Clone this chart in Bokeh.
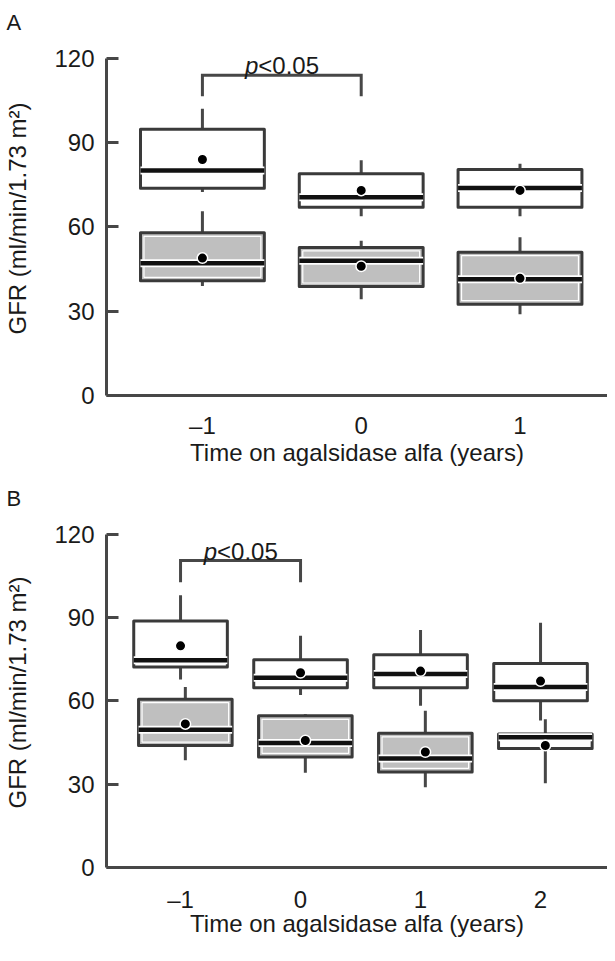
from bokeh.plotting import figure
from bokeh.models import ColumnDataSource, Range1d, FixedTicker
from bokeh.layouts import column
from bokeh.embed import file_html
from bokeh.resources import INLINE
from bokeh.core.properties import value

# ---------------- data ----------------
# Panel A
A_years = [-1, 0, 1]
A_hi_wlo = [72.4, 63.8, 63.8]
A_hi_q1 = [73.8, 67.0, 67.0]
A_hi_med = [80.1, 70.6, 73.9]
A_hi_q3 = [94.8, 78.9, 80.4]
A_hi_whi = [102.1, 83.7, 82.5]
A_hi_mean = [84.0, 73.0, 73.0]

A_lo_wlo = [39.0, 34.3, 28.9]
A_lo_q1 = [40.8, 38.8, 32.5]
A_lo_med = [47.1, 48.0, 41.4]
A_lo_q3 = [57.9, 52.7, 51.0]
A_lo_whi = [65.6, 55.1, 56.3]
A_lo_mean = [48.9, 46.0, 41.7]

# Panel B
B_years = [-1, 0, 1, 2]
B_hi_wlo = [67.7, 62.1, 58.2, 52.9]
B_hi_q1 = [72.2, 64.7, 64.7, 60.0]
B_hi_med = [74.6, 68.3, 69.7, 65.0]
B_hi_q3 = [88.7, 74.8, 76.6, 73.4]
B_hi_whi = [98.0, 83.4, 85.5, 88.1]
B_hi_mean = [79.8, 70.1, 70.7, 67.1]

B_lo_wlo = [38.6, 34.1, 28.9, 30.3]
B_lo_q1 = [43.9, 39.8, 34.4, 42.8]
B_lo_med = [49.6, 44.8, 39.2, 46.9]
B_lo_q3 = [60.6, 54.6, 48.3, 48.1]
B_lo_whi = [65.0, 55.2, 56.4, 53.4]
B_lo_mean = [51.7, 45.7, 41.6, 43.9]

y_ticks = [0, 30, 60, 90, 120]
x_label = "Time on agalsidase alfa (years)"
y_label = "GFR (ml/min/1.73 m\u00b2)"
sig_text = ["p", "<0.05"]
# brackets: (from year, to year, bracket top, leg bottom, text baseline)
A_bracket = (-1, 0, 114.0, 106.5, 117.4)
B_bracket = (-1, 0, 110.5, 102.7, 113.8)

FONT = "Liberation Sans"
DARK = "#474747"
GRAY = "#bfbfbf"


def make_panel(letter, years, hi, lo, lo_shift, lo_fills, xr, dims, stand, bracket):
    W, H, bl, bt, bb = dims
    s_tick, s_lab = stand
    p = figure(width=W, height=H, x_range=Range1d(*xr), y_range=Range1d(0, 126),
               output_backend="svg", toolbar_location=None,
               min_border_left=bl, min_border_right=0,
               min_border_top=bt, min_border_bottom=bb)
    p.outline_line_color = None
    p.grid.visible = False
    p.background_fill_color = "white"
    p.border_fill_color = "white"

    fw = W - bl
    fh = H - bt - bb
    px_x = fw / (xr[1] - xr[0])
    px_y = fh / 126.0
    bw = 0.78

    def draw(xs, st, fills, is_gray):
        wlo, q1, med, q3, whi, mean = st
        src = ColumnDataSource(dict(
            x=xs, wlo=wlo, q1=q1, med=med, q3=q3, whi=whi, mean=mean,
            left=[x - bw / 2 for x in xs], right=[x + bw / 2 for x in xs],
            ileft=[x - bw / 2 + 3.5 / px_x for x in xs],
            iright=[x + bw / 2 - 3.5 / px_x for x in xs],
            iq1=[v + 3.5 / px_y for v in q1], iq3=[v - 3.5 / px_y for v in q3],
            fill=fills))
        p.segment(x0="x", y0="q3", x1="x", y1="whi", source=src,
                  line_color=DARK, line_width=3)
        p.segment(x0="x", y0="wlo", x1="x", y1="q1", source=src,
                  line_color=DARK, line_width=3)
        p.quad(left="left", right="right", bottom="q1", top="q3", source=src,
               fill_color="fill", line_color="#3a3a3a", line_width=3,
               line_join="round")
        if is_gray:
            p.quad(left="ileft", right="iright", bottom="iq1", top="iq3",
                   source=src, fill_color=None, line_color="white",
                   line_width=1.2)
        p.segment(x0="left", y0="med", x1="right", y1="med", source=src,
                  line_color="white", line_width=8)
        p.segment(x0="left", y0="med", x1="right", y1="med", source=src,
                  line_color="#111111", line_width=4.5)
        p.scatter(x="x", y="mean", source=src, marker="circle", size=10.5,
                  fill_color="black", line_color="white", line_width=1.5)

    draw(list(years), hi, ["white"] * len(years), False)
    draw([y + lo_shift for y in years], lo, lo_fills, True)

    # significance bracket
    x0, x1, top, leg, base = bracket
    p.line(x=[x0, x0, x1, x1], y=[leg, top, top, leg], line_color=DARK,
           line_width=3, line_join="miter")
    mid = (x0 + x1) / 2
    p.text(x=[mid], y=[base], text=[sig_text[0]], text_align="right",
           text_baseline="alphabetic", x_offset=-23.5,
           text_font=value(FONT), text_font_size="24px",
           text_font_style="italic", text_color="#1a1a1a")
    p.text(x=[mid], y=[base], text=[sig_text[1]], text_align="left",
           text_baseline="alphabetic", x_offset=-23.5,
           text_font=value(FONT), text_font_size="24px",
           text_color="#1a1a1a")

    # axes
    ya = p.yaxis[0]
    ya.bounds = (0, 120)
    ya.ticker = FixedTicker(ticks=y_ticks)
    ya.major_tick_in = 12
    ya.major_tick_out = 0
    ya.minor_tick_line_color = None
    ya.axis_line_width = 3
    ya.axis_line_color = DARK
    ya.major_tick_line_width = 3
    ya.major_tick_line_color = DARK
    ya.major_label_standoff = 12
    ya.major_label_text_font = FONT
    ya.major_label_text_font_size = "24px"
    ya.major_label_text_color = "#1a1a1a"
    ya.axis_label = y_label
    ya.axis_label_text_font = FONT
    ya.axis_label_text_font_size = "24px"
    ya.axis_label_text_font_style = "normal"
    ya.axis_label_text_color = "#1a1a1a"
    ya.axis_label_standoff = 20

    xa = p.xaxis[0]
    xa.ticker = FixedTicker(ticks=list(years))
    xa.major_label_overrides = {y: ("\u2013" + str(-y) if y < 0 else str(y))
                                for y in years}
    xa.major_tick_in = 0
    xa.major_tick_out = 0
    xa.minor_tick_line_color = None
    xa.axis_line_width = 3
    xa.axis_line_color = DARK
    xa.major_label_standoff = s_tick
    xa.major_label_text_font = FONT
    xa.major_label_text_font_size = "24px"
    xa.major_label_text_color = "#1a1a1a"
    xa.axis_label = x_label
    xa.axis_label_text_font = FONT
    xa.axis_label_text_font_size = "24px"
    xa.axis_label_text_font_style = "normal"
    xa.axis_label_text_color = "#1a1a1a"
    xa.axis_label_standoff = s_lab

    p.title.text = letter
    p.title.align = "left"
    p.title.offset = -100
    p.title.text_font = FONT
    p.title.text_font_size = "22px"
    p.title.text_font_style = "normal"
    p.title.text_color = "#1a1a1a"
    p.title.standoff = 13
    return p


pA = make_panel(
    "A", A_years,
    (A_hi_wlo, A_hi_q1, A_hi_med, A_hi_q3, A_hi_whi, A_hi_mean),
    (A_lo_wlo, A_lo_q1, A_lo_med, A_lo_q3, A_lo_whi, A_lo_mean),
    0.0, [GRAY] * 3, (-1.604, 1.551), (607, 474, 106, 41, 79), (16, -3),
    A_bracket)

pB = make_panel(
    "B", B_years,
    (B_hi_wlo, B_hi_q1, B_hi_med, B_hi_q3, B_hi_whi, B_hi_mean),
    (B_lo_wlo, B_lo_q1, B_lo_med, B_lo_q3, B_lo_whi, B_lo_mean),
    0.04, [GRAY, GRAY, GRAY, "white"], (-1.617, 2.558), (607, 471, 106, 43, 78),
    (18, -6), B_bracket)

layout = column(pA, pB, spacing=0)
open("out.html", "w").write(file_html(layout, INLINE))
